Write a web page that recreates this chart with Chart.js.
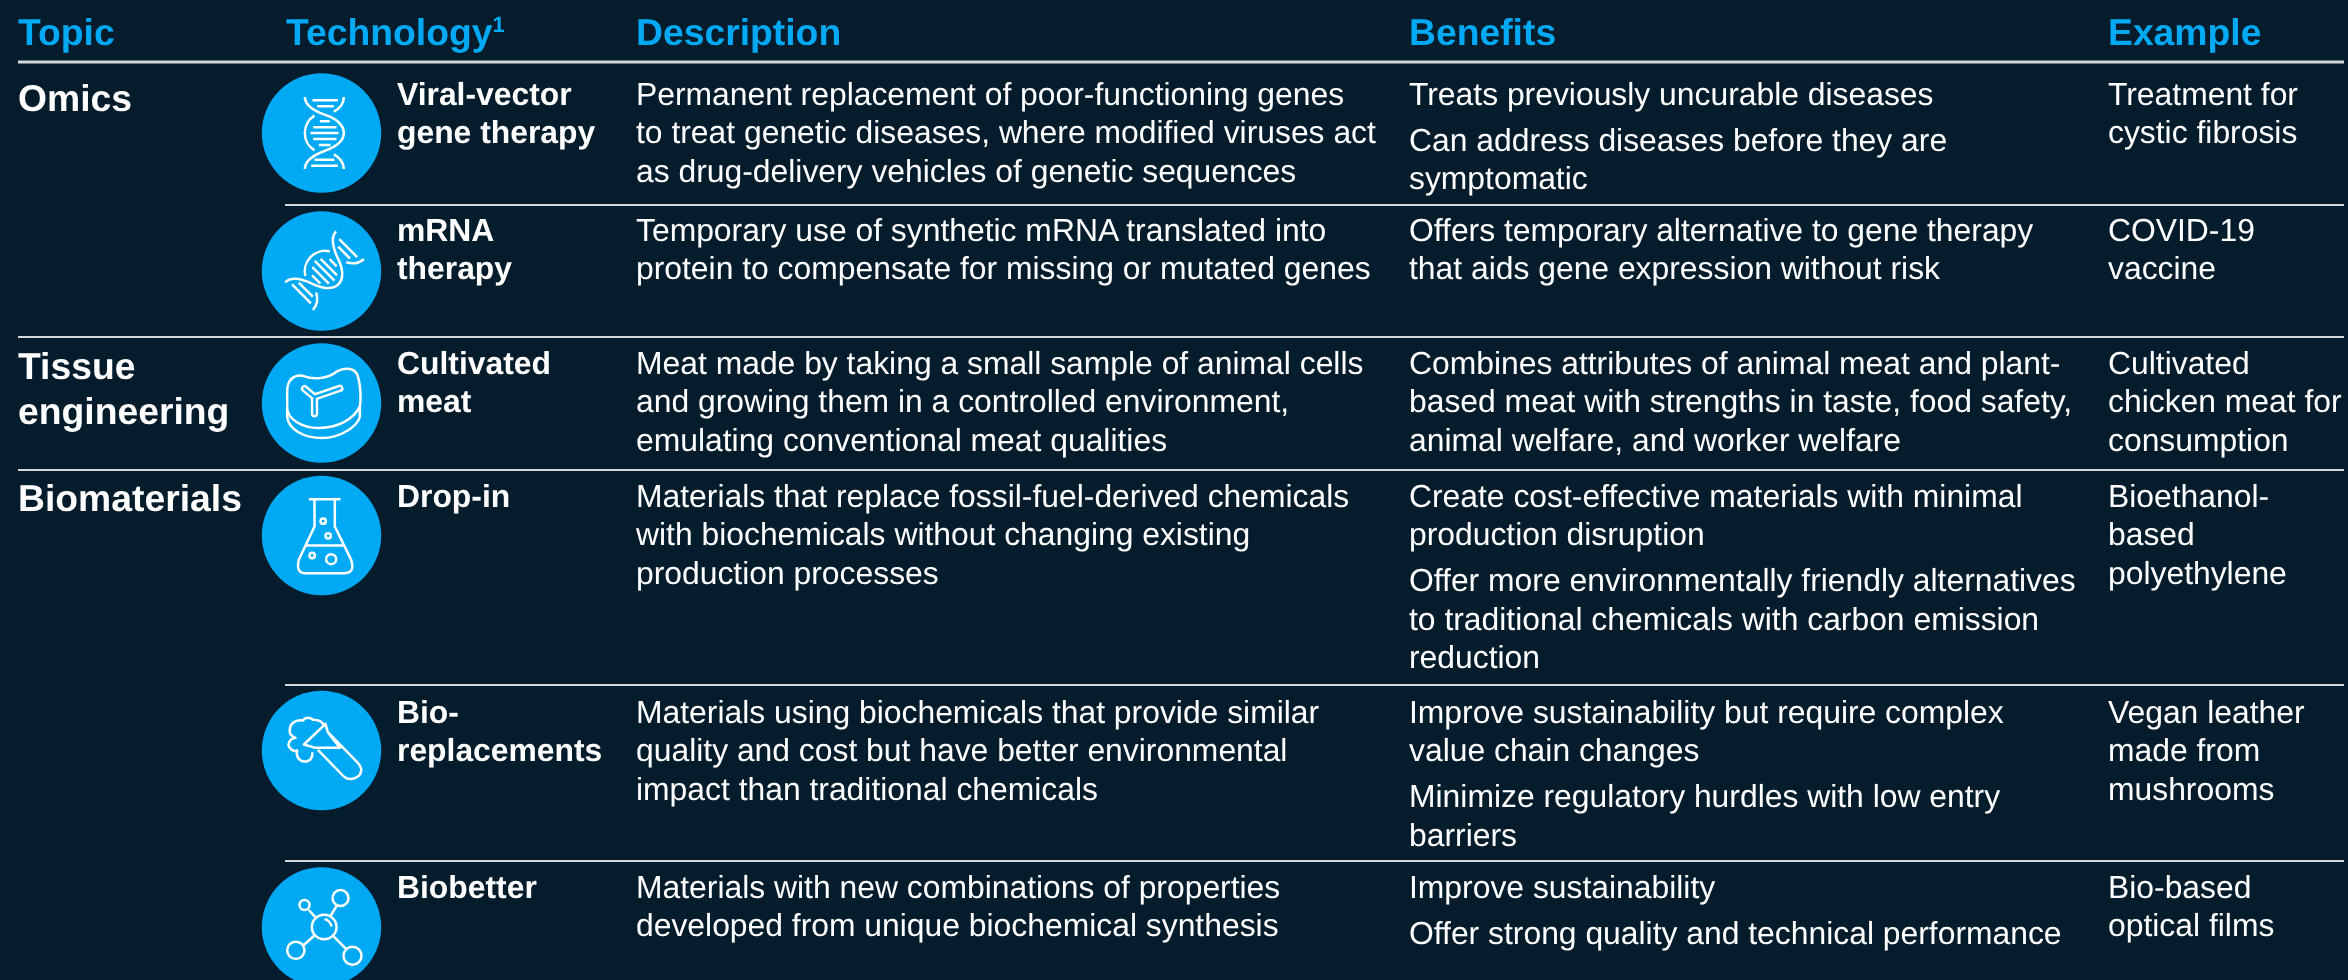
<!DOCTYPE html>
<html>
<head>
<meta charset="utf-8">
<style>
  html, body { margin: 0; padding: 0; background: #051c2c; overflow: hidden; }
  canvas { display: block; }
</style>
<script src="https://cdn.jsdelivr.net/npm/chart.js@4/dist/chart.umd.min.js"></script>
</head>
<body>
<canvas id="myChart" width="2348" height="980"></canvas>
<script>
// table content
var headers = ["Topic", "Technology", "Description", "Benefits", "Example"];
var topics = [["Omics"], ["Tissue", "engineering"], ["Biomaterials"]];
var technologies = [
  ["Viral-vector", "gene therapy"],
  ["mRNA", "therapy"],
  ["Cultivated", "meat"],
  ["Drop-in"],
  ["Bio-", "replacements"],
  ["Biobetter"]
];
var descriptions = [
  ["Permanent replacement of poor-functioning genes", "to treat genetic diseases, where modified viruses act", "as drug-delivery vehicles of genetic sequences"],
  ["Temporary use of synthetic mRNA translated into", "protein to compensate for missing or mutated genes"],
  ["Meat made by taking a small sample of animal cells", "and growing them in a controlled environment,", "emulating conventional meat qualities"],
  ["Materials that replace fossil-fuel-derived chemicals", "with biochemicals without changing existing", "production processes"],
  ["Materials using biochemicals that provide similar", "quality and cost but have better environmental", "impact than traditional chemicals"],
  ["Materials with new combinations of properties", "developed from unique biochemical synthesis"]
];
var benefits = [
  [["Treats previously uncurable diseases"], ["Can address diseases before they are", "symptomatic"]],
  [["Offers temporary alternative to gene therapy", "that aids gene expression without risk"]],
  [["Combines attributes of animal meat and plant-", "based meat with strengths in taste, food safety,", "animal welfare, and worker welfare"]],
  [["Create cost-effective materials with minimal", "production disruption"], ["Offer more environmentally friendly alternatives", "to traditional chemicals with carbon emission", "reduction"]],
  [["Improve sustainability but require complex", "value chain changes"], ["Minimize regulatory hurdles with low entry", "barriers"]],
  [["Improve sustainability"], ["Offer strong quality and technical performance"]]
];
var examples = [
  ["Treatment for", "cystic fibrosis"],
  ["COVID-19", "vaccine"],
  ["Cultivated", "chicken meat for", "consumption"],
  ["Bioethanol-", "based", "polyethylene"],
  ["Vegan leather", "made from", "mushrooms"],
  ["Bio-based", "optical films"]
];

// layout, in scale units
var columnX = [18, 286, 636, 1409, 2108];
var techTextX = 397;
var headerY = 45;
var topicY = [111, 379, 511];
var rowY = [105, 241, 374, 507, 723, 898];
var lineStep = 38.4;
var paraGap = 7.4;
var iconX = 321.5;
var iconY = [133, 271, 403, 535.5, 750.5, 927];
var ruleY = [62, 205, 337, 470, 685, 861];
var ruleStart = [18, 285, 18, 18, 285, 285];
var ruleEnd = 2344;

var BG = "#051c2c";
var BLUE = "#00a9f4";
var LINE = "#d4d6d8";

// icon outlines, drawn around each circle centre (units are 1/3 px, centre 243,220)
var helix = "M193 112 C193 140 225 155 252 165 C285 175 310 195 310 220 C310 245 285 262 252 274 C225 284 193 300 193 328 " +
  "M310 112 C310 130 298 146 280 156 M222 168 C205 178 193 198 193 220 C193 242 205 262 222 272 M280 284 C298 294 310 310 310 328 " +
  "M216 122 H292 M230 140 H280 M238 185 H268 M218 203 H288 M210 220 H294 M218 238 H288 M235 256 H270 M222 300 H282 M212 318 H292";
var meat = "M140 185 C140 150 160 135 185 138 C215 150 260 150 290 125 C315 112 345 115 352 140 C360 165 362 210 358 230 C340 270 290 295 235 295 C180 295 140 265 140 235 Z " +
  "M140 235 V262 C145 300 190 325 245 325 C300 325 350 290 358 262 V230";
var meatBone = "M192 177 L222 202 L298 176 M222 202 L222 252";
var flask = "M205 111 H300 M222 111 V193 L175 293 Q165 333 195 333 H310 Q345 333 332 293 L283 193 V111 M198 250 H308 " +
  "M256 177 A8 8 0 1 1 240 177 A8 8 0 1 1 256 177 M271 221 A8 8 0 1 1 255 221 A8 8 0 1 1 271 221 " +
  "M223 280 A8 8 0 1 1 207 280 A8 8 0 1 1 223 280 M287 291 A15 15 0 1 1 257 291 A15 15 0 1 1 287 291";
var tube = "M190 202 L255 140 L262 165 L298 212 H225 Z M232 218 L310 298 C330 315 365 300 362 275 C360 265 355 260 350 255 L262 165 " +
  "M250 145 C245 128 225 128 218 128 C205 118 190 122 188 130 C165 125 145 140 148 165 C150 175 155 178 165 182 C145 185 140 205 148 212 C155 222 165 222 170 220 C165 240 180 255 195 253 C210 252 218 240 215 225";
var molecule = "M288 220 A37 37 0 1 1 214 220 A37 37 0 1 1 288 220 M207 154 A15 15 0 1 1 177 154 A15 15 0 1 1 207 154 " +
  "M324 133 A24 24 0 1 1 276 133 A24 24 0 1 1 324 133 M192 290 A26 26 0 1 1 140 290 A26 26 0 1 1 192 290 " +
  "M363 306 A27 27 0 1 1 309 306 A27 27 0 1 1 363 306 M205 169 L225 191 M288 157 L270 187 M190 274 L220 247 M280 249 L318 287 " +
  "M252 197 C262 198 272 208 273 219";
var icons = [
  { path: helix },
  { path: helix, rotate: 45, shift: [3, -7] },
  { path: meat, bone: meatBone },
  { path: flask },
  { path: tube },
  { path: molecule }
];

var rules = ruleY.map(function (y, i) {
  return {
    type: "scatter",
    showLine: true,
    borderColor: LINE,
    borderWidth: i === 0 ? 3 : 2,
    pointRadius: 0,
    data: [{ x: ruleStart[i], y: y }, { x: ruleEnd, y: y }]
  };
});

var circles = {
  type: "bubble",
  backgroundColor: BLUE,
  borderWidth: 0,
  clip: false,
  data: iconY.map(function (y) { return { x: iconX, y: y, r: 59.7 }; })
};

function drawLines(ctx, x, y, lines, step, sx, sy) {
  lines.forEach(function (line, i) {
    ctx.fillText(line, sx.getPixelForValue(x), sy.getPixelForValue(y + i * step));
  });
}

var tablePlugin = {
  id: "tableText",
  beforeDraw: function (chart) {
    var c = chart.ctx;
    c.save();
    c.fillStyle = BG;
    c.fillRect(0, 0, chart.width, chart.height);
    c.restore();
  },
  afterDatasetsDraw: function (chart) {
    var c = chart.ctx, sx = chart.scales.x, sy = chart.scales.y;
    c.save();
    c.textBaseline = "alphabetic";
    c.textAlign = "left";
    c.textRendering = "geometricPrecision";

    // headers
    c.fillStyle = BLUE;
    c.font = "bold 37.3px 'Liberation Sans'";
    headers.forEach(function (h, i) {
      c.fillText(h, sx.getPixelForValue(columnX[i]), sy.getPixelForValue(headerY));
    });
    var supX = columnX[1] + c.measureText(headers[1]).width;
    c.font = "bold 22px 'Liberation Sans'";
    c.fillText("1", sx.getPixelForValue(supX), sy.getPixelForValue(headerY - 13));

    // topics
    c.fillStyle = "#ffffff";
    c.font = "bold 37.3px 'Liberation Sans'";
    topics.forEach(function (t, i) { drawLines(c, columnX[0], topicY[i], t, 45, sx, sy); });

    // technology names
    c.font = "bold 31.85px 'Liberation Sans'";
    technologies.forEach(function (t, i) { drawLines(c, techTextX, rowY[i], t, lineStep, sx, sy); });

    // body text
    c.font = "31.85px 'Liberation Sans'";
    descriptions.forEach(function (t, i) { drawLines(c, columnX[2], rowY[i], t, lineStep, sx, sy); });
    benefits.forEach(function (paragraphs, i) {
      var y = rowY[i];
      paragraphs.forEach(function (p) {
        drawLines(c, columnX[3], y, p, lineStep, sx, sy);
        y += p.length * lineStep + paraGap;
      });
    });
    examples.forEach(function (t, i) { drawLines(c, columnX[4], rowY[i], t, lineStep, sx, sy); });

    // icon glyphs on top of the bubbles
    var points = chart.getDatasetMeta(ruleY.length).data;
    c.strokeStyle = "#ffffff";
    c.lineJoin = "round";
    c.lineCap = "butt";
    icons.forEach(function (icon, i) {
      c.save();
      c.translate(points[i].x, points[i].y);
      if (icon.shift) c.translate(icon.shift[0] / 3, icon.shift[1] / 3);
      if (icon.rotate) c.rotate(icon.rotate * Math.PI / 180);
      c.scale(1 / 3, 1 / 3);
      c.translate(-243, -220);
      c.lineWidth = 7.5;
      c.stroke(new Path2D(icon.path));
      if (icon.bone) {
        // bone is a rounded outline: thick white with blue inside
        c.lineCap = "round";
        c.lineWidth = 22;
        c.stroke(new Path2D(icon.bone));
        c.strokeStyle = BLUE;
        c.lineWidth = 7.5;
        c.stroke(new Path2D(icon.bone));
      }
      c.restore();
    });
    c.restore();
  }
};

new Chart("myChart", {
  type: "scatter",
  data: { datasets: rules.concat([circles]) },
  options: {
    responsive: false,
    animation: false,
    events: [],
    layout: { padding: 0, autoPadding: false },
    plugins: { legend: { display: false }, tooltip: { enabled: false } },
    scales: {
      x: { type: "linear", display: false, min: 0, max: 2348 },
      y: { type: "linear", display: false, min: 0, max: 980, reverse: true }
    }
  },
  plugins: [tablePlugin]
});
</script>
</body>
</html>
